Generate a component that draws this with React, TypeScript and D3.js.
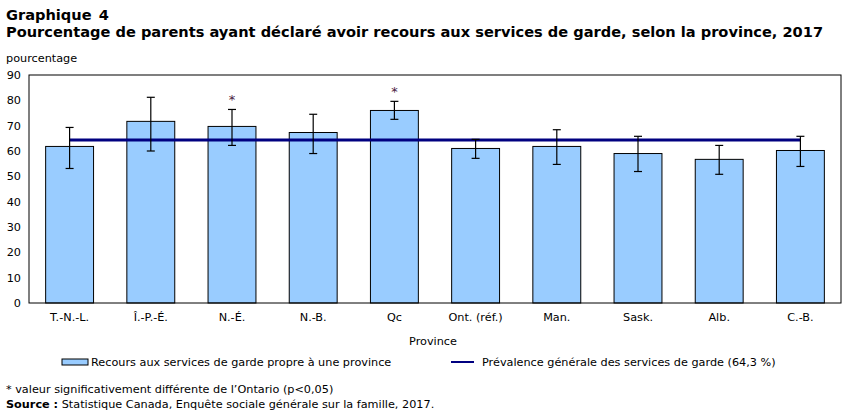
import React from "react";
import * as d3 from "d3";

const provinces = ["T.-N.-L.", "Î.-P.-É.", "N.-É.", "N.-B.", "Qc", "Ont. (réf.)", "Man.", "Sask.", "Alb.", "C.-B."];
const values = [61.8, 71.7, 69.7, 67.3, 76.0, 61.0, 61.8, 59.0, 56.7, 60.2];
const errLow = [53.1, 60.0, 62.2, 59.0, 72.5, 57.1, 54.7, 51.9, 50.8, 53.9];
const errHigh = [69.3, 81.2, 76.4, 74.5, 79.6, 64.6, 68.4, 65.8, 62.2, 65.8];
const significant = [false, false, true, false, true, false, false, false, false, false];
const overall = 64.3;
const yTicks = [0, 10, 20, 30, 40, 50, 60, 70, 80, 90];

const W = 851, H = 415;
const m = { left: 29, right: 841, top: 75, bottom: 303 };
const font = "Verdana, 'DejaVu Sans', sans-serif";
const fs = 11.25;

export default function App() {
  const x = d3.scaleBand<string>().domain(provinces).range([m.left, m.right]).paddingInner(0.41).paddingOuter(0.205);
  const y = d3.scaleLinear().domain([0, 90]).range([m.bottom, m.top]);
  const cx = (p: string) => (x(p) as number) + x.bandwidth() / 2;
  const cap = 4;
  return (
    <svg width={W} height={H} style={{ position: "absolute", left: 0, top: 0 }} fontFamily={font}>
      <rect x={0} y={0} width={W} height={H} fill="white" />
      <text x={6} y={19.5} fontSize={14.6} fontWeight="bold" fill="#000" wordSpacing={2}>Graphique 4</text>
      <text x={6} y={37} fontSize={14.6} fontWeight="bold" fill="#000">Pourcentage de parents ayant déclaré avoir recours aux services de garde, selon la province, 2017</text>
      <text x={6} y={62} fontSize={fs} fill="#000">pourcentage</text>
      {yTicks.map((t) => (
        <text key={t} x={m.left - 8} y={y(t) + 4} fontSize={fs} textAnchor="end" fill="#000">{t}</text>
      ))}
      {provinces.map((p, i) => (
        <rect key={p} x={x(p)} y={y(values[i])} width={x.bandwidth()} height={y(0) - y(values[i])} fill="#99CCFF" stroke="#000" strokeWidth={1} />
      ))}
      <line x1={cx(provinces[0])} x2={cx(provinces[provinces.length - 1])} y1={y(overall)} y2={y(overall)} stroke="#000080" strokeWidth={3} />
      {provinces.map((p, i) => (
        <g key={p} stroke="#000" strokeWidth={1.2}>
          <line x1={cx(p)} x2={cx(p)} y1={y(errLow[i])} y2={y(errHigh[i])} />
          <line x1={cx(p) - cap} x2={cx(p) + cap} y1={y(errLow[i])} y2={y(errLow[i])} />
          <line x1={cx(p) - cap} x2={cx(p) + cap} y1={y(errHigh[i])} y2={y(errHigh[i])} />
        </g>
      ))}
      {provinces.map((p, i) => significant[i] ? (
        <text key={p} x={cx(p)} y={y(errHigh[i]) - 5} fontSize={13} textAnchor="middle" fill="#4a2040">*</text>
      ) : null)}
      <rect x={m.left} y={m.top} width={m.right - m.left} height={m.bottom - m.top} fill="none" stroke="#000" strokeWidth={1} />
      {provinces.map((p) => (
        <text key={p} x={cx(p)} y={m.bottom + 18} fontSize={fs} textAnchor="middle" fill="#000">{p}</text>
      ))}
      <text x={433} y={345} fontSize={fs} textAnchor="middle" fill="#000">Province</text>
      <rect x={62} y={359} width={26} height={6} fill="#99CCFF" stroke="#000" strokeWidth={1} />
      <text x={91} y={366} fontSize={fs} fill="#000">Recours aux services de garde propre à une province</text>
      <line x1={451} x2={474} y1={362} y2={362} stroke="#000080" strokeWidth={2} />
      <text x={482} y={366} fontSize={fs} fill="#000">Prévalence générale des services de garde (64,3 %)</text>
      <text x={6} y={393} fontSize={fs} fill="#000">* valeur significativement différente de l’Ontario (p&lt;0,05)</text>
      <text x={6} y={408} fontSize={fs} fill="#000"><tspan fontWeight="bold">Source :</tspan> Statistique Canada, Enquête sociale générale sur la famille, 2017.</text>
    </svg>
  );
}
